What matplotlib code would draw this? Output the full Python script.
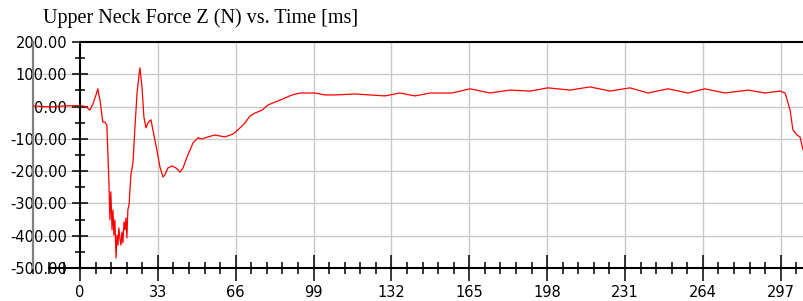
import matplotlib
matplotlib.use("Agg")
import matplotlib.pyplot as plt
import numpy as np
from matplotlib.ticker import MultipleLocator, FixedLocator, FormatStrFormatter

# ---- data ----
time_ms = [-19.9, -12.7, -6.4, 0.0, 2.5, 4.2, 5.5, 6.8, 7.6, 8.1, 8.5, 9.3, 9.7, 10.6, 11.4,
           12.3, 12.7, 13.1, 13.6, 14.0, 14.4, 14.8, 15.3, 15.7, 16.1, 16.5, 17.0, 17.4, 17.8,
           18.2, 18.7, 19.1, 19.5, 19.9, 20.3, 20.8, 21.2, 21.6, 22.5, 23.3, 24.2, 25.4, 26.3,
           27.1, 28.0, 28.8, 30.1, 30.9, 32.6, 33.9, 35.2, 36.0, 37.3, 39.0, 40.7, 42.4, 43.7,
           45.4, 47.9, 50.0, 51.7, 54.3, 57.2, 59.3, 61.5, 64.9, 67.0, 69.9, 72.1, 74.2, 77.2,
           79.7, 84.8, 89.9, 93.3, 99.6, 103.9, 108.1, 116.6, 122.9, 129.3, 135.6, 142.0, 148.4,
           157.7, 165.3, 173.8, 182.3, 190.8, 198.4, 207.7, 216.2, 224.7, 233.1, 240.8, 249.3,
           257.7, 264.9, 273.4, 283.2, 290.4, 296.8, 298.9, 301.0, 302.2, 303.9, 305.2, 306.5]
force_n = [2, -1, 2, 3, 0, -11, 8, 36, 55, 33, 20, -26, -48, -48, -57,
           -237, -351, -264, -382, -320, -398, -351, -469, -398, -429, -376, -413, -429, -388,
           -422, -357, -382, -345, -407, -320, -305, -258, -212, -172, -66, 42, 120, 61,
           -32, -66, -51, -41, -72, -134, -187, -218, -212, -190, -184, -190, -203, -190,
           -156, -113, -97, -100, -94, -88, -91, -94, -85, -72, -51, -29, -20, -11,
           5, 20, 36, 42, 42, 36, 36, 39, 36, 33, 42, 33, 42,
           42, 55, 42, 51, 48, 58, 51, 61, 48, 58, 42, 55,
           42, 55, 42, 51, 42, 48, 42, -11, -72, -88, -94, -134]

x_major = [0, 33, 66, 99, 132, 165, 198, 231, 264, 297]
y_major = [-500, -400, -300, -200, -100, 0, 100, 200]
title = "Upper Neck Force Z (N) vs. Time [ms]"

# ---- figure ----
fig = plt.figure(figsize=(8.04, 3.01), dpi=100)
ax = fig.add_axes([33/804, 33/301, 771/804, 226/301])
xmin, xmax = -19.9, 306.9
ax.set_xlim(xmin, xmax)
ax.set_ylim(-500, 200)

# grid
for xv in x_major[1:]:
    ax.axvline(xv, color="#c8c8c8", lw=1.0, zorder=1)
for yv in y_major[1:-1]:
    ax.axhline(yv, color="#c8c8c8", lw=1.0, zorder=1)

# gray left boundary
ax.axvline(xmin, color="#808080", lw=1.6, zorder=2, clip_on=False)
# top black line
ax.hlines(200, 0, xmax, color="black", lw=1.5, zorder=3, clip_on=False)

ax.plot(time_ms, force_n, color="#ff0000", lw=0.9, zorder=4)

# spines
ax.spines["top"].set_visible(False)
ax.spines["right"].set_visible(False)
ax.spines["left"].set_position(("data", 0))
ax.spines["left"].set_linewidth(1.5)
ax.spines["bottom"].set_linewidth(1.5)
ax.spines["bottom"].set_bounds(-13.2, xmax)
ax.spines["left"].set_zorder(5)
ax.spines["bottom"].set_zorder(5)

ax.xaxis.set_major_locator(FixedLocator(x_major))
ax.xaxis.set_minor_locator(MultipleLocator(6.6))
ax.yaxis.set_major_locator(FixedLocator(y_major))
ax.yaxis.set_minor_locator(MultipleLocator(50))
ax.yaxis.set_major_formatter(FormatStrFormatter("%.2f"))

ax.tick_params(axis="x", which="major", direction="inout", length=18.7, width=1.1, pad=3,
               labelsize=10.5)
ax.tick_params(axis="x", which="minor", direction="inout", length=8.6, width=1.1)
ax.tick_params(axis="y", which="major", direction="inout", length=11.5, width=1.1, pad=3.5,
               labelsize=10.5)
ax.tick_params(axis="y", which="minor", direction="inout", length=7.2, width=1.1)
for lab in ax.get_xticklabels() + ax.get_yticklabels():
    lab.set_fontfamily("DejaVu Sans")

fig.text(43/804, 1 - 23/301, title, family="Liberation Serif", fontsize=14.5,
         ha="left", va="baseline")

fig.savefig("out.png", dpi=100)
